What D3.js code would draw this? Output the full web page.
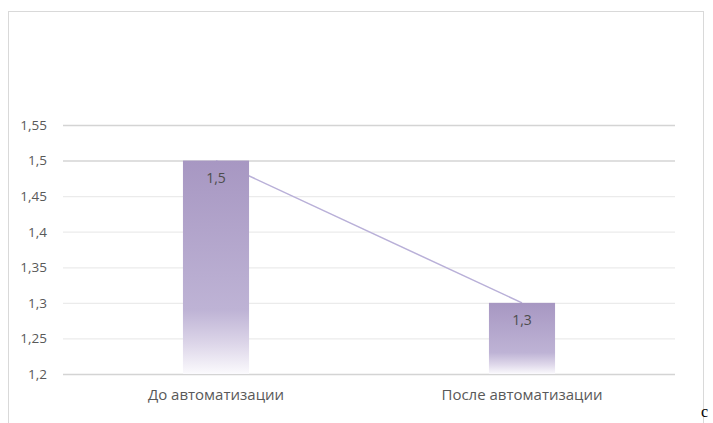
<!DOCTYPE html>
<html>
<head>
<meta charset="utf-8">
<script src="https://cdn.jsdelivr.net/npm/d3@7/dist/d3.min.js"></script>
<style>
  html, body { margin: 0; padding: 0; background: #fff; }
  svg { display: block; }
</style>
</head>
<body>
<svg id="chart" width="713" height="423"></svg>
<script>
// Chart data
const categories = ["До автоматизации", "После автоматизации"];
const values = [1.5, 1.3];
const yTicks = [1.2, 1.25, 1.3, 1.35, 1.4, 1.45, 1.5, 1.55];

const svg = d3.select("#chart");
const plot = { left: 63, right: 675, top: 125, bottom: 374 };
const font = "'Open Sans', 'Liberation Sans', Arial, sans-serif";

const fmt = v => String(v).replace(".", ",");

// Outer frame of the chart area
svg.append("rect")
  .attr("x", 8.5).attr("y", 11.5)
  .attr("width", 695).attr("height", 440)
  .attr("fill", "#fff")
  .attr("stroke", "#d9d9d9")
  .attr("stroke-width", 1);

const x = d3.scaleBand()
  .domain(categories)
  .range([plot.left, plot.right])
  .paddingInner(0.784)
  .paddingOuter(0.392);

const y = d3.scaleLinear()
  .domain([1.2, 1.55])
  .range([plot.bottom, plot.top]);

// Bar fill: purple fading to white at the base
const defs = svg.append("defs");
const grad = defs.append("linearGradient")
  .attr("id", "barFill")
  .attr("x1", 0).attr("y1", 0).attr("x2", 0).attr("y2", 1);
[[0, "#a797c2"], [0.7, "#beb3d5"], [0.86, "#ddd6e9"], [1, "#fbfafd"]]
  .forEach(([o, c]) => grad.append("stop").attr("offset", o).attr("stop-color", c));

// Gridlines and value axis labels
const yAxis = d3.axisLeft(y)
  .tickValues(yTicks)
  .tickSize(-(plot.right - plot.left))
  .tickPadding(16)
  .tickFormat(fmt);

const gy = svg.append("g")
  .attr("transform", `translate(${plot.left},0)`)
  .call(yAxis);
gy.select(".domain").remove();
gy.selectAll(".tick line")
  .attr("stroke", d => (d === 1.2 || d >= 1.5) ? "#d4d4d4" : "#ebebeb")
  .attr("stroke-width", d => (d === 1.2 || d >= 1.5) ? 1.5 : 1.2);
gy.selectAll(".tick text")
  .attr("fill", "#595959")
  .style("font-family", font)
  .style("font-size", "13.5px");

// Connecting line between bar tops (sits behind the bars)
const line = d3.line()
  .x((d, i) => x(categories[i]) + x.bandwidth() / 2)
  .y(d => y(d));
svg.append("path")
  .datum(values)
  .attr("d", line)
  .attr("fill", "none")
  .attr("stroke", "#b9b0d8")
  .attr("stroke-width", 1.5);

// Bars
svg.append("g").selectAll("rect")
  .data(values)
  .join("rect")
  .attr("x", (d, i) => x(categories[i]))
  .attr("y", d => y(d))
  .attr("width", x.bandwidth())
  .attr("height", d => y(1.2) - y(d))
  .attr("fill", "url(#barFill)");

// Value labels inside bar tops
svg.append("g").selectAll("text")
  .data(values)
  .join("text")
  .attr("x", (d, i) => x(categories[i]) + x.bandwidth() / 2)
  .attr("y", d => y(d) + 22)
  .attr("text-anchor", "middle")
  .attr("fill", "#4d4d4d")
  .style("font-family", font)
  .style("font-size", "14px")
  .text(fmt);

// Category axis labels
const xAxis = d3.axisBottom(x).tickSize(0).tickPadding(15);
const gx = svg.append("g")
  .attr("transform", `translate(0,${plot.bottom})`)
  .call(xAxis);
gx.select(".domain").remove();
gx.selectAll(".tick text")
  .attr("fill", "#595959")
  .style("font-family", font)
  .style("font-size", "15px");

// Trailing caption letter outside the frame
svg.append("text")
  .attr("x", 701)
  .attr("y", 417)
  .attr("fill", "#000")
  .style("font-family", "'Liberation Serif', 'Times New Roman', serif")
  .style("font-size", "16px")
  .text("c");
</script>
</body>
</html>
